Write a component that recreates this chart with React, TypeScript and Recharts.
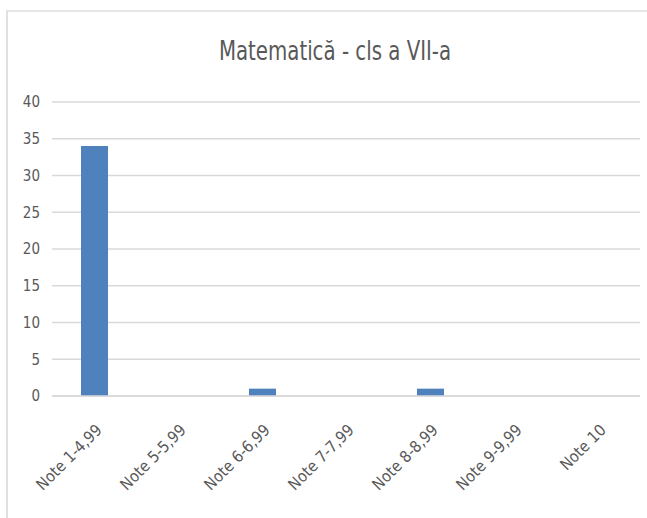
import { Bar, BarChart, CartesianGrid, XAxis, YAxis } from 'recharts';

const categories = ['Note 1-4,99', 'Note 5-5,99', 'Note 6-6,99', 'Note 7-7,99', 'Note 8-8,99', 'Note 9-9,99', 'Note 10'];
const counts = [34, 0, 1, 0, 1, 0, 0];
const yTicks = [0, 5, 10, 15, 20, 25, 30, 35, 40];
const title = 'Matematică - cls a VII-a';

const data = categories.map((name, i) => ({ name, value: counts[i] }));

const FONT = "'DejaVu Sans Condensed', 'Liberation Sans Narrow', sans-serif";
const GREY = '#595959';

function RotatedTick({ x, y, payload }: any) {
  const tx = x + 9;
  const ty = y + 27;
  return (
    <text
      x={tx}
      y={ty}
      transform={`rotate(-45 ${tx} ${ty})`}
      textAnchor="end"
      fill={GREY}
      fontSize={16}
      fontFamily={FONT}
    >
      {payload.value}
    </text>
  );
}

export default function App() {
  return (
    <div style={{ position: 'absolute', left: 0, top: 0, width: 647, height: 518, background: '#fff' }}>
      <div
        style={{
          position: 'absolute',
          left: 6,
          top: 10,
          right: 0,
          bottom: 0,
          borderLeft: '2px solid #e0e0e0',
          borderTop: '2px solid #e6e6e6',
        }}
      />
      <svg width={647} height={90} style={{ position: 'absolute', left: 0, top: 0 }}>
        <text
          x={335}
          y={50}
          transform="scale(1,1.2)"
          textAnchor="middle"
          fill={GREY}
          fontSize={22}
          fontFamily={FONT}
        >
          {title}
        </text>
      </svg>
      <div style={{ position: 'absolute', left: 0, top: 0 }}>
        <BarChart width={647} height={518} data={data} margin={{ top: 102, right: 7, bottom: 0, left: 0 }} barSize={27}>
          <CartesianGrid vertical={false} stroke="#d9d9d9" strokeWidth={1.5} />
          <XAxis
            dataKey="name"
            interval={0}
            height={122}
            tickLine={false}
            axisLine={{ stroke: '#d9d9d9', strokeWidth: 1.5 }}
            tick={<RotatedTick />}
          />
          <YAxis
            width={52}
            domain={[0, 40]}
            ticks={yTicks}
            axisLine={false}
            tickLine={false}
            tickMargin={6}
            tick={{ fill: GREY, fontSize: 15, fontFamily: FONT }}
          />
          <Bar dataKey="value" fill="#4f81bd" isAnimationActive={false} />
        </BarChart>
      </div>
    </div>
  );
}
